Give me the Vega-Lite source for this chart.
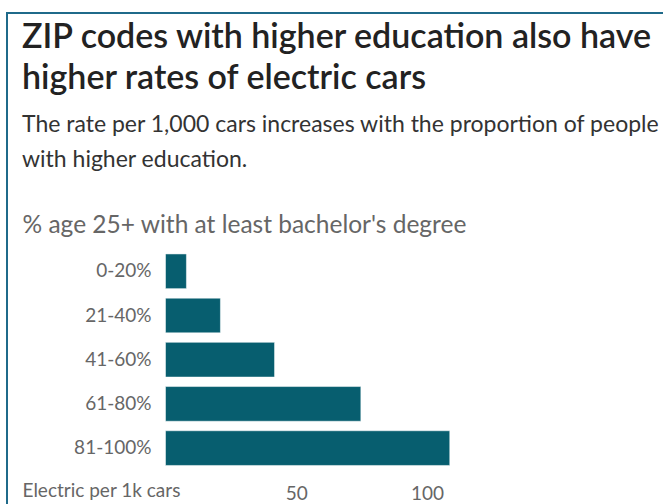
{
  "$schema": "https://vega.github.io/schema/vega-lite/v6.json",
  "autosize": "none",
  "padding": {"left": 7, "top": 13, "right": 0, "bottom": 0},
  "width": 700,
  "height": 600,
  "background": "#ffffff",
  "config": {
    "view": {"stroke": "#1f6a8a", "strokeWidth": 2},
    "font": "Lato"
  },
  "title": {
    "text": ["ZIP codes with higher education also have", "higher rates of electric cars"],
    "subtitle": ["The rate per 1,000 cars increases with the proportion of people", "with higher education."],
    "anchor": "start",
    "frame": "group",
    "orient": "top",
    "offset": -159,
    "dx": 15,
    "font": "Lato",
    "fontSize": 34,
    "fontWeight": 600,
    "color": "#222222",
    "lineHeight": 41,
    "subtitleFont": "Lato",
    "subtitleFontSize": 23,
    "subtitleColor": "#333333",
    "subtitleLineHeight": 35,
    "subtitlePadding": 18
  },
  "data": {
    "values": [
      {"group": "0-20%", "rate": 8},
      {"group": "21-40%", "rate": 21},
      {"group": "41-60%", "rate": 41.7},
      {"group": "61-80%", "rate": 74.7},
      {"group": "81-100%", "rate": 108.7}
    ]
  },
  "mark": {"type": "bar", "color": "#075e6f", "stroke": "#ffffff", "strokeWidth": 0.5},
  "encoding": {
    "y": {
      "field": "group",
      "type": "nominal",
      "sort": null,
      "scale": {"range": [236.2, 457.2], "paddingInner": 0.215, "paddingOuter": 0.1075},
      "axis": {
        "orient": "left",
        "offset": -159,
        "domain": false,
        "ticks": false,
        "tickSize": 0,
        "labelPadding": 15,
        "labelFont": "Lato",
        "labelFontSize": 19,
        "labelColor": "#666666",
        "title": "% age 25+ with at least bachelor's degree",
        "titleAngle": 0,
        "titleAlign": "left",
        "titleBaseline": "alphabetic",
        "titleAnchor": null,
        "titleX": -144,
        "titleY": 219.7,
        "titleFont": "Lato",
        "titleFontSize": 24.5,
        "titleFontWeight": "normal",
        "titleColor": "#666666"
      }
    },
    "x": {
      "field": "rate",
      "type": "quantitative",
      "scale": {"domain": [0, 100], "range": [158.5, 420], "clamp": false, "nice": false},
      "axis": {
        "orient": "bottom",
        "offset": -114,
        "values": [50, 100],
        "domain": false,
        "ticks": false,
        "tickSize": 0,
        "grid": false,
        "labelFlush": false,
        "labelPadding": 0,
        "labelBaseline": "alphabetic",
        "labelFont": "Lato",
        "labelFontSize": 19,
        "labelColor": "#666666",
        "title": "Electric per 1k cars",
        "titleAlign": "left",
        "titleAnchor": null,
        "titleBaseline": "alphabetic",
        "titleX": 15,
        "titleY": -3,
        "titleFont": "Lato",
        "titleFontSize": 19,
        "titleFontWeight": "normal",
        "titleColor": "#666666"
      }
    }
  }
}
